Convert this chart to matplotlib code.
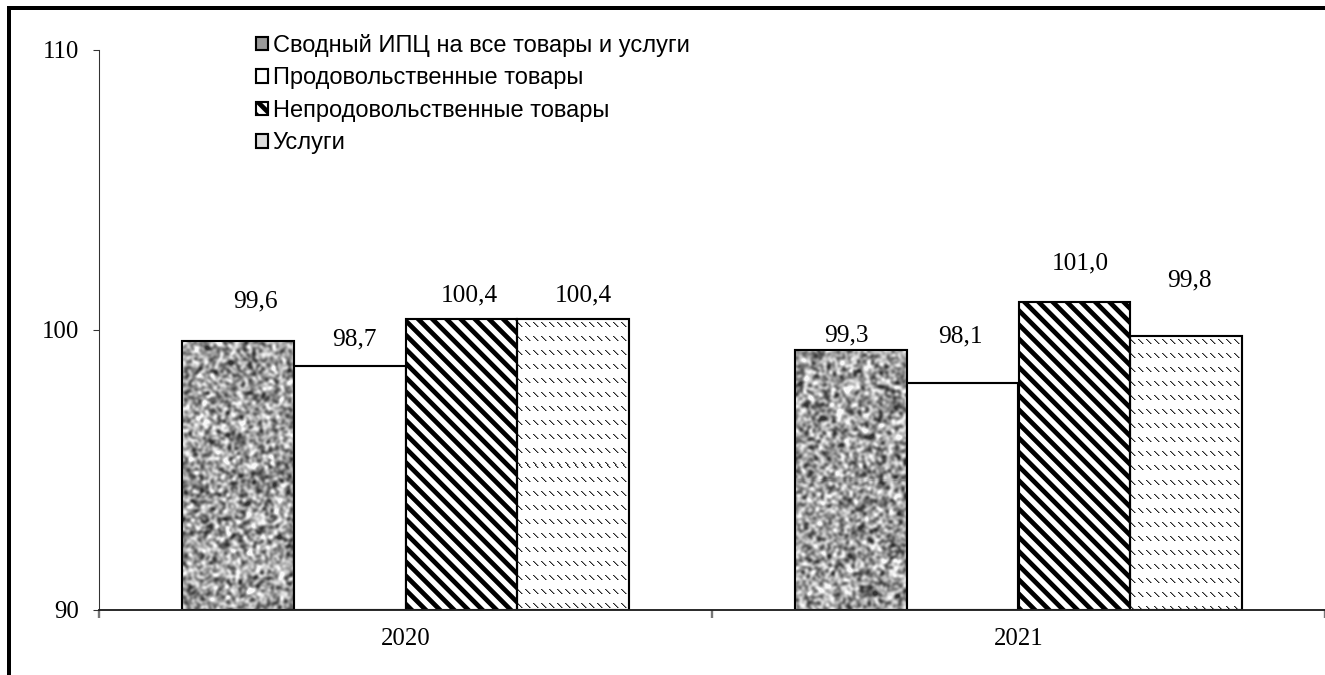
import numpy as np
import matplotlib
matplotlib.use("Agg")
import matplotlib.pyplot as plt
from matplotlib.patches import Patch
from matplotlib.lines import Line2D

# ---------------- data ----------------
years = ["2020", "2021"]
series_names = ["Сводный ИПЦ на все товары и услуги",
                "Продовольственные товары",
                "Непродовольственные товары",
                "Услуги"]
cpi_total = [99.6, 99.3]
cpi_food = [98.7, 98.1]
cpi_nonfood = [100.4, 101.0]
cpi_services = [100.4, 99.8]
value_labels = [["99,6", "99,3"], ["98,7", "98,1"], ["100,4", "101,0"], ["100,4", "99,8"]]
y_ticks = [90, 100, 110]

# label offsets in pixels (dx, dy above bar top) per series, per year
label_dx = [[17, -5], [5, -2], [8, 6], [11, 4]]
label_dy = [[40, 14], [27, 47], [23, 39], [23, 55]]

DPI = 85
W, H = 1325, 675
plt.rcParams["hatch.linewidth"] = 4.0
plt.rcParams["hatch.color"] = "black"

fig = plt.figure(figsize=(W / DPI, H / DPI), dpi=DPI)
ax = fig.add_axes([99 / W, (H - 610) / H, (W - 99) / W, 560 / H])

serif = ["Liberation Serif", "DejaVu Serif"]
sans = ["Liberation Sans", "DejaVu Sans"]

x = np.arange(len(years))
bw = 0.182
offsets = [-1.5 * bw, -0.5 * bw, 0.5 * bw, 1.5 * bw]
series = [cpi_total, cpi_food, cpi_nonfood, cpi_services]

ax.set_xlim(-0.5, 1.5)
ax.set_ylim(90, 110)

ymin = 90
bars_all = []
for si, vals in enumerate(series):
    kw = dict(edgecolor="black", linewidth=1.8, zorder=3)
    if si == 0:
        kw["facecolor"] = "none"
    elif si == 1:
        kw["facecolor"] = "white"
    elif si == 2:
        kw["facecolor"] = "white"
        kw["hatch"] = "\\\\"
    else:
        kw["facecolor"] = "none"
    bars = ax.bar(x + offsets[si], np.array(vals) - ymin, bw, bottom=ymin, **kw)
    bars_all.append(bars)

# textures for series 0 (granite) and 3 (dashed rows)
fig.canvas.draw()
rng = np.random.default_rng(7)


def box_blur(a, k=1):
    out = np.zeros_like(a)
    n = 0
    for dy in range(-k, k + 1):
        for dx in range(-k, k + 1):
            out += np.roll(np.roll(a, dy, 0), dx, 1)
            n += 1
    return out / n


for si in (0, 3):
    for b in bars_all[si]:
        x0, y0 = b.get_x(), b.get_y()
        x1, y1 = x0 + b.get_width(), y0 + b.get_height()
        p0 = ax.transData.transform((x0, y0))
        p1 = ax.transData.transform((x1, y1))
        w = int(round(abs(p1[0] - p0[0])))
        h = int(round(abs(p1[1] - p0[1])))
        if si == 0:
            n = rng.random((h // 2 + 2, w // 2 + 2))
            n = np.kron(n, np.ones((2, 2)))[:h, :w]
            n = box_blur(box_blur(box_blur(n, 1), 1), 1)
            n = (n - n.mean()) / n.std()
            n = np.clip(0.62 + 0.16 * n, 0.2, 0.97)
            img = n
        else:
            img = np.ones((h, w))
            yy, xx = np.mgrid[0:h, 0:w]
            ph = (yy - 4) % 14
            d = (xx - ph) % 8
            img[(ph < 5) & (d == 0)] = 0.15
            img[(ph < 5) & (d == 1)] = 0.6
        im = ax.imshow(img, extent=[x0, x1, y0, y1], cmap="gray", vmin=0, vmax=1,
                       interpolation="nearest", aspect="auto", zorder=2, origin="upper")
        im.set_clip_path(b)

ax.set_xlim(-0.5, 1.5)
ax.set_ylim(90, 110)
ax.set_aspect("auto")

# value labels
for si, vals in enumerate(series):
    for yi, v in enumerate(vals):
        ax.annotate(value_labels[si][yi], (x[yi] + offsets[si], v),
                    xytext=(label_dx[si][yi] * 72 / DPI, label_dy[si][yi] * 72 / DPI),
                    textcoords="offset points", ha="center", va="center",
                    fontsize=21.5, family=serif, color="black", zorder=5)

# axes styling
for s in ("top", "right"):
    ax.spines[s].set_visible(False)
ax.spines["left"].set_linewidth(0.9)
ax.spines["left"].set_color("#333333")
ax.spines["bottom"].set_linewidth(1.6)
ax.spines["bottom"].set_color("#222222")
ax.spines["bottom"].set_zorder(4)

ax.set_yticks(y_ticks)
ax.set_yticklabels([str(t) for t in y_ticks], family=serif, fontsize=21)
ax.tick_params(axis="y", direction="out", length=5, width=0.9, color="#333333", pad=12)

ax.set_xticks(x)
ax.set_xticklabels(years, family=serif, fontsize=21)
ax.tick_params(axis="x", which="major", length=0, pad=15)
ax.set_xticks([-0.5, 0.5, 1.5], minor=True)
ax.tick_params(axis="x", which="minor", direction="out", length=7, width=2, color="#777777")

# legend
handles = [
    Patch(facecolor="#9a9a9a", edgecolor="black", linewidth=1.8),
    Patch(facecolor="white", edgecolor="black", linewidth=1.8),
    Patch(facecolor="white", edgecolor="black", linewidth=1.8, hatch="\\\\"),
    Patch(facecolor="#dddddd", edgecolor="black", linewidth=1.8),
]
leg = ax.legend(handles, series_names, loc="upper left",
                bbox_to_anchor=(256 / W, 1 - 34 / H), bbox_transform=fig.transFigure,
                frameon=False, prop={"family": sans, "size": 20},
                handlelength=0.5, handleheight=0.5, handletextpad=0.2,
                labelspacing=0.44, borderaxespad=0, borderpad=0)

# figure frame (thick border at left and top)
fw = 4 * 72 / DPI
fig.add_artist(Line2D([9 / W, 9 / W], [-0.1, 1 - 8 / H], transform=fig.transFigure,
                      color="black", linewidth=fw, solid_capstyle="projecting"))
fig.add_artist(Line2D([9 / W, 1.1], [1 - 8 / H, 1 - 8 / H], transform=fig.transFigure,
                      color="black", linewidth=fw, solid_capstyle="projecting"))

fig.savefig("out.png", dpi=DPI)
